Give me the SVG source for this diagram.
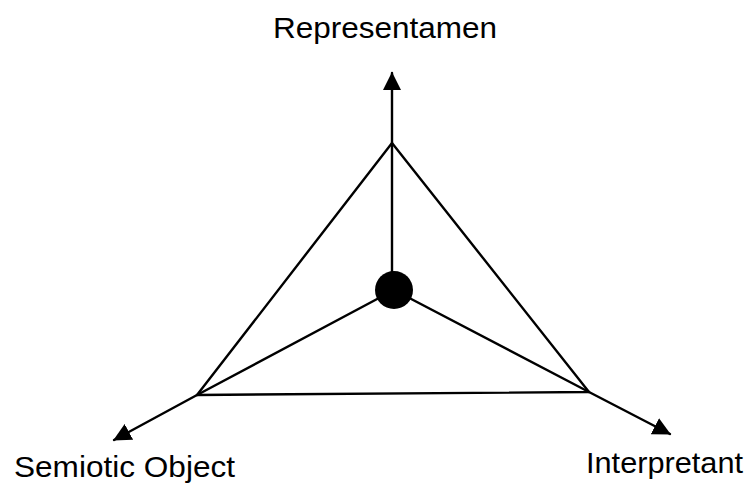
<svg xmlns="http://www.w3.org/2000/svg" width="751" height="483" viewBox="0 0 751 483">
<style>
.ln{stroke:#000;stroke-width:2.4;fill:none;stroke-linecap:round;stroke-linejoin:round}
.lbl{font-family:"Liberation Sans",Arial,sans-serif;font-size:30px;fill:#000}
</style>
<defs>
<marker id="ah" markerUnits="userSpaceOnUse" markerWidth="18" markerHeight="18" viewBox="0 0 18 18" refX="17" refY="9" orient="auto">
<path d="M0,0 L18,9 L0,18 Z" fill="#000"/>
</marker>
</defs>
<rect width="751" height="483" fill="#fff"/>
<g id="connectors">
<polygon class="ln" points="392,143 197,395 589,392"/>
<line class="ln" x1="394" y1="290" x2="197" y2="395"/>
<line class="ln" x1="394" y1="290" x2="589" y2="392"/>
<line class="ln" x1="392" y1="290" x2="392" y2="73" marker-end="url(#ah)"/>
<line class="ln" x1="197" y1="395" x2="114" y2="440" marker-end="url(#ah)"/>
<line class="ln" x1="589" y1="392" x2="670" y2="434" marker-end="url(#ah)"/>
</g>
<g id="center">
<circle cx="394" cy="290" r="19" fill="#000"/>
</g>
<g id="representamen">
<text class="lbl" x="273" y="38" textLength="224" lengthAdjust="spacingAndGlyphs">Representamen</text>
</g>
<g id="semiotic-object">
<text class="lbl" x="14" y="477" textLength="221" lengthAdjust="spacingAndGlyphs">Semiotic Object</text>
</g>
<g id="interpretant">
<text class="lbl" x="586" y="473" textLength="157" lengthAdjust="spacingAndGlyphs">Interpretant</text>
</g>
</svg>
